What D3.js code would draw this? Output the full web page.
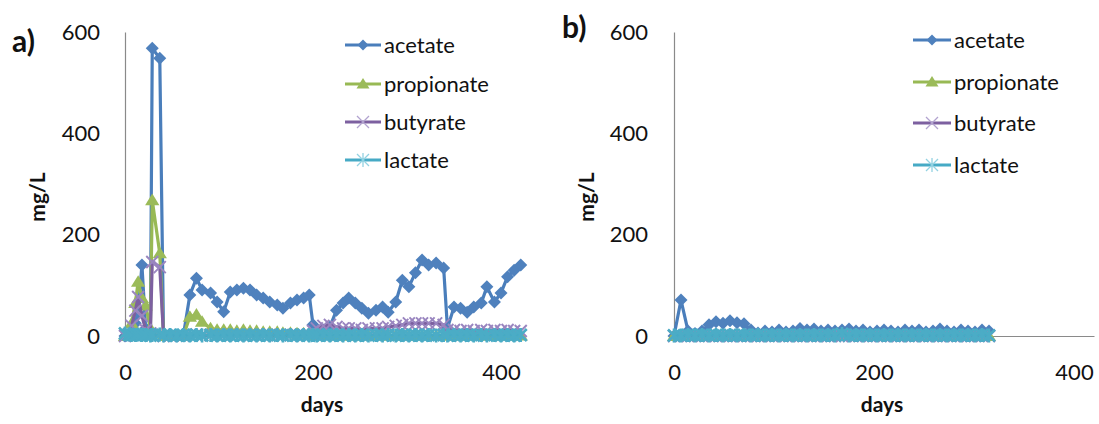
<!DOCTYPE html>
<html><head><meta charset="utf-8">
<script src="https://cdn.jsdelivr.net/npm/d3@7"></script>
<style>body{margin:0;background:#fff}svg{display:block;font-family:Lato,"Open Sans",sans-serif}</style>
</head><body><svg id="c" width="1099" height="424"></svg>
<script>
// ---------- data ----------
const seriesNames = ["acetate", "propionate", "butyrate", "lactate"];
const xTicks = [0, 200, 400];
const yTicks = [0, 200, 400, 600];

// panel a
const daysA = [0,4,7,11,14,18,22,27,29,37, 41,48,55,62,69,76,82,91,98,105,
  112,119,126,133,140,147,154,162,168,176, 183,190,196,200,204,211,218,225,232,238,
  245,252,259,267,274,280,288,295,302,309, 316,323,331,339,343,350,357,364,371,379,
  385,393,400,407,414,421];
const acetateA = [0,2,8,25,45,140,15,5,568,548, 0,0,0,0,81,114,91,85,67,48,
  87,91,94,91,81,75,67,61,55,65, 71,75,81,22,8,12,18,51,65,75,
  65,55,45,51,57,47,67,110,97,125, 150,140,144,134,16,57,55,47,57,65,
  97,67,85,117,130,140];
const propionateA = [0,5,25,65,107,75,60,15,268,163, 0,0,0,0,38,42,28,15,12,12,
  12,10,12,10,10,8,8,8,6,6, 5,5,5,3,2,2,2,1,1,1,
  1,1,1,1,1,1,1,1,1,1, 1,1,1,1,1,1,1,1,1,1,
  1,1,1,1,1,1];
const butyrateA = [0,3,20,50,77,40,12,5,146,136, 0,1,1,1,2,3,2,2,2,2,
  2,2,2,2,2,2,2,2,2,2, 2,2,3,10,15,20,22,18,15,15,
  15,12,15,15,15,18,20,22,25,25, 25,25,25,22,12,12,10,12,10,12,
  10,12,10,12,10,10];
const lactateA = [5,3,2,2,3,2,2,1,2,3, 1,2,1,2,1,2,1,2,1,2,
  1,2,1,2,1,2,1,2,1,2, 1,2,1,2,1,2,1,2,1,2,
  1,2,1,2,1,2,1,2,1,2, 1,2,1,2,1,2,1,2,1,2,
  1,2,1,2,1,2];

// panel b
const daysB = [0,7,14,21,28,35,42,49,56,63, 70,77,84,91,98,105,112,119,126,133,
  140,147,154,161,168,175,182,189,196,203, 210,217,224,231,238,245,252,259,266,273,
  280,287,294,301,308,315];
const acetateB = [0,71,10,5,10,22,28,25,30,26, 24,12,6,10,8,12,8,10,15,12,
  14,10,12,10,12,14,10,12,8,10, 12,10,8,12,10,12,8,10,14,10,
  8,12,10,8,12,10];
const propionateB = [0,0,0,0,0,0,0,0,0,0, 0,0,0,0,0,0,0,0,0,0,
  0,0,0,0,0,0,0,0,0,0, 0,0,0,0,0,0,0,0,0,0,
  0,0,0,0,0,0];
const butyrateB = [0,0,0,0,0,0,0,0,0,0, 0,0,0,0,0,0,0,0,0,0,
  0,0,0,0,0,0,0,0,0,0, 0,0,0,0,0,0,0,0,0,0,
  0,0,0,0,0,0];
const lactateB = [1,1,2,1,2,1,2,1,2,1, 2,1,2,1,2,1,2,1,2,1,
  2,1,2,1,4,1,2,1,2,1, 2,1,2,1,2,1,2,1,2,1,
  2,1,2,1,2,1];

// ---------- styles ----------
const lineColors = ["#4A7EBB", "#98B954", "#7D60A0", "#46AAC5"];
const markerColors = ["#4F81BD", "#9BBB59", "#9A86C0", "#4BACC6"];
const markerTypes = ["diamond", "triangle", "x", "star"];

const svg = d3.select("#c");

function drawMarker(g, type, color, cx, cy, legend) {
  if (type === "diamond") {
    const r = legend ? 5.5 : 6.5;
    g.append("path").attr("d", `M${cx},${cy-r}L${cx+r},${cy}L${cx},${cy+r}L${cx-r},${cy}Z`).attr("fill", color);
  } else if (type === "triangle") {
    const s = legend ? 1 : 1.1;
    g.append("path").attr("d", `M${cx},${cy-6*s}L${cx+6.5*s},${cy+4.5*s}L${cx-6.5*s},${cy+4.5*s}Z`).attr("fill", color);
  } else if (type === "x") {
    const r = 6;
    g.append("path").attr("d", `M${cx-r},${cy-r}L${cx+r},${cy+r}M${cx-r},${cy+r}L${cx+r},${cy-r}`)
      .attr("stroke", legend ? "#B2A3CF" : color).attr("stroke-width", legend ? 1.3 : 2).attr("fill", "none");
  } else {
    const r = 6;
    g.append("path").attr("d", `M${cx-r},${cy-r}L${cx+r},${cy+r}M${cx-r},${cy+r}L${cx+r},${cy-r}M${cx},${cy-r-1}L${cx},${cy+r+1}`)
      .attr("stroke", legend ? "#93D2E2" : color).attr("stroke-width", legend ? 1.3 : 2.6).attr("fill", "none");
  }
}

function panel(cfg) {
  const x = d3.scaleLinear().domain(cfg.xDomain).range(cfg.xRange);
  const y = d3.scaleLinear().domain([0, 600]).range([336, 32]);
  const g = svg.append("g");

  const xa = g.append("g").attr("transform", `translate(0,${y(0)})`)
    .call(d3.axisBottom(x).tickValues(xTicks).tickSize(0).tickSizeOuter(0).tickPadding(28).tickFormat(d3.format("d")));
  const ya = g.append("g").attr("transform", `translate(${x(0)},0)`)
    .call(d3.axisLeft(y).tickValues(yTicks).tickSize(0).tickSizeOuter(0).tickPadding(cfg.yPad).tickFormat(d3.format("d")));
  [xa, ya].forEach(a => {
    a.select(".domain").attr("stroke", "#8a8a8a").attr("stroke-width", 1.2);
    a.selectAll("text").attr("font-size", 22).attr("fill", "#111").attr("font-family", "Lato, sans-serif");
  });

  const line = d3.line().x(d => x(d[0])).y(d => y(d[1]));
  cfg.series.forEach((vals, i) => {
    const pts = cfg.days.map((d, k) => [d, vals[k]]);
    g.append("path").datum(pts).attr("d", line).attr("fill", "none")
      .attr("stroke", lineColors[i]).attr("stroke-width", 3.2).attr("stroke-linejoin", "round");
    const mg = g.append("g");
    pts.forEach(p => drawMarker(mg, markerTypes[i], markerColors[i], x(p[0]), y(p[1]), false));
  });

  // legend
  const lg = g.append("g");
  seriesNames.forEach((n, i) => {
    const ly = cfg.legendY[i];
    lg.append("line").attr("x1", cfg.legendX[0]).attr("x2", cfg.legendX[1]).attr("y1", ly).attr("y2", ly)
      .attr("stroke", lineColors[i]).attr("stroke-width", 3);
    drawMarker(lg, markerTypes[i], markerColors[i], (cfg.legendX[0] + cfg.legendX[1]) / 2, ly, true);
    lg.append("text").attr("x", cfg.legendX[1] + 3).attr("y", ly).attr("dy", "0.35em")
      .attr("font-size", 22).attr("fill", "#111").text(n);
  });

  // titles
  g.append("text").attr("x", cfg.daysX).attr("y", 412).attr("text-anchor", "middle")
    .attr("font-size", 21).attr("font-weight", "bold").attr("fill", "#111").text("days");
  g.append("text").attr("transform", `translate(${cfg.mgX},197) rotate(-90)`).attr("text-anchor", "middle")
    .attr("font-size", 21).attr("font-weight", "bold").attr("fill", "#111").text("mg/L");
  g.append("text").attr("x", cfg.labelX).attr("y", cfg.labelY)
    .attr("font-size", 30).attr("font-weight", "bold").attr("fill", "#111").text(cfg.label);
}

panel({
  days: daysA, series: [acetateA, propionateA, butyrateA, lactateA],
  xDomain: [0, 425], xRange: [125, 524.5], yPad: 25,
  legendX: [345, 381], legendY: [45, 84, 122, 160],
  daysX: 322, mgX: 45, labelX: 12, labelY: 52, label: "a)"
});
panel({
  days: daysB, series: [acetateB, propionateB, butyrateB, lactateB],
  xDomain: [0, 420], xRange: [674, 1094], yPad: 26,
  legendX: [913, 951], legendY: [40, 82, 123, 165],
  daysX: 882, mgX: 594, labelX: 562, labelY: 38, label: "b)"
});
</script></body></html>
